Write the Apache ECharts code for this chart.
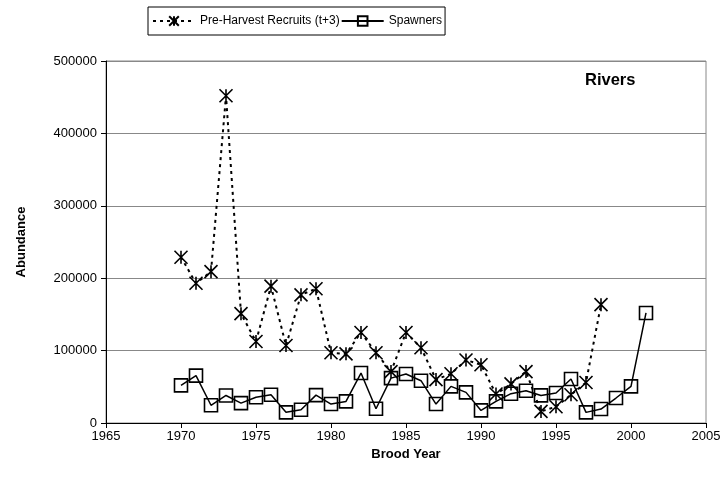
<!DOCTYPE html>
<html>
<head>
<meta charset="utf-8">
<script src="https://cdn.jsdelivr.net/npm/echarts@6/dist/echarts.min.js"></script>
<style>html,body{margin:0;padding:0;background:#fff}#c{width:725px;height:488px}</style>
</head>
<body>
<div id="c"></div>
<script>
var recruitYears = [1970,1971,1972,1973,1974,1975,1976,1977,1978,1979,1980,1981,1982,1983,1984,1985,1986,1987,1988,1989,1990,1991,1992,1993,1994,1995,1996,1997,1998];
var recruits = [229000,193000,209000,452000,151000,112500,189000,107000,177000,185500,97000,95500,125000,97000,71000,125000,104000,60000,68000,87000,80500,40000,54000,71000,16000,22500,39000,56000,163500];
var spawnerYears = [1970,1971,1972,1973,1974,1975,1976,1977,1978,1979,1980,1981,1982,1983,1984,1985,1986,1987,1988,1989,1990,1991,1992,1993,1994,1995,1996,1997,1998,1999,2000,2001];
var spawners = [52000,65500,24500,38000,27500,35500,39000,14700,18400,38500,26200,29800,69000,19700,62000,67700,58400,26200,50600,42300,17400,29800,40500,44600,38100,41400,60800,14700,19300,34500,50600,152000];
var xTicks = [1965,1970,1975,1980,1985,1990,1995,2000,2005];
var yTicks = [0,100000,200000,300000,400000,500000];

function pairs(xs, ys){ return xs.map(function(x,i){ return [x, ys[i]]; }); }

var starPath = 'path://M0,0L10,10M10,0L0,10M5,0L5,10';
var font = 'Liberation Sans, Arial, sans-serif';

var chart = echarts.init(document.getElementById('c'), null, {renderer:'canvas'});
chart.setOption({
  animation:false,
  backgroundColor:'#fff',
  textStyle:{fontFamily:font},
  grid:{left:106, right:19, top:61, bottom:65, show:true, borderColor:'#888', borderWidth:1, backgroundColor:'transparent'},
  legend:{
    left:148, top:7, padding:[8,3,8,4],
    borderColor:'#000', borderWidth:1,
    itemWidth:42, itemHeight:12, itemGap:1,
    textStyle:{fontSize:12, color:'#000', fontFamily:font},
    data:['Pre-Harvest Recruits (t+3)','Spawners']
  },
  xAxis:{
    type:'value', min:xTicks[0], max:xTicks[xTicks.length-1], interval:5,
    name:'Brood Year', nameLocation:'middle', nameGap:17,
    nameTextStyle:{fontSize:13, fontWeight:'bold', color:'#000', fontFamily:font},
    axisLine:{lineStyle:{color:'#000', width:1}},
    axisTick:{length:5, lineStyle:{color:'#000'}},
    axisLabel:{fontSize:13, color:'#000', margin:7, fontFamily:font, formatter:function(v){return String(v);}},
    splitLine:{show:false}
  },
  yAxis:{
    type:'value', min:yTicks[0], max:yTicks[yTicks.length-1], interval:100000,
    name:'Abundance', nameLocation:'middle', nameGap:78,
    nameTextStyle:{fontSize:13, fontWeight:'bold', color:'#000', fontFamily:font},
    axisLine:{show:true, lineStyle:{color:'#000', width:1}},
    axisTick:{show:true, length:5, lineStyle:{color:'#000'}},
    axisLabel:{fontSize:13, color:'#000', margin:9, fontFamily:font, formatter:function(v){return String(v);}},
    splitLine:{show:true, lineStyle:{color:'#888', width:1}}
  },
  graphic:[{
    type:'text', left:585, top:72,
    style:{text:'Rivers', font:'bold 16.5px Liberation Sans, Arial, sans-serif', fill:'#000'}
  }],
  series:[
    {
      name:'Pre-Harvest Recruits (t+3)', type:'line',
      data:pairs(recruitYears, recruits),
      symbol:starPath, symbolSize:13,
      itemStyle:{color:'#000', borderColor:'#000', borderWidth:1.6},
      lineStyle:{color:'#000', width:2, type:[3,4]},
      z:3
    },
    {
      name:'Spawners', type:'line',
      data:pairs(spawnerYears, spawners),
      symbol:'rect', symbolSize:13,
      itemStyle:{color:'rgba(255,255,255,0)', borderColor:'#000', borderWidth:1.6},
      lineStyle:{color:'#000', width:1.5, type:'solid'},
      z:2
    }
  ]
});
</script>
</body>
</html>
